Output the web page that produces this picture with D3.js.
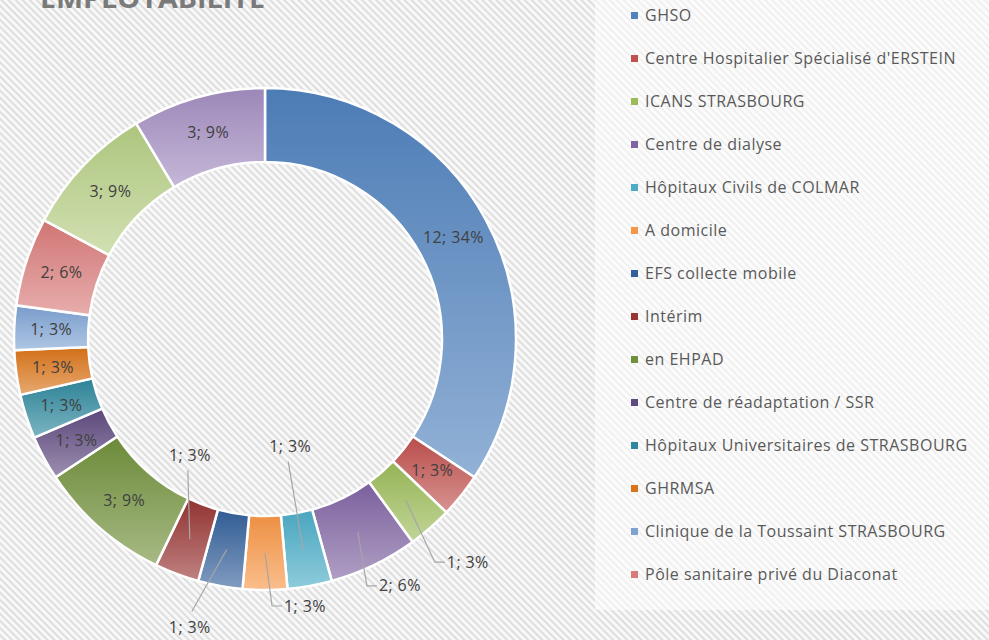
<!DOCTYPE html>
<html>
<head>
    <meta charset="utf-8" />
    <title>EMPLOYABILITE</title>
    <script src="https://d3js.org/d3.v7.min.js"></script>
    <style>
        body { margin: 0; background: #fff; }
        svg { display: block; }
    </style>
</head>
<body>
    <div id="chart"></div>

    <script>
        // data
        const categories = [
            "GHSO",
            "Centre Hospitalier Spécialisé d'ERSTEIN",
            "ICANS STRASBOURG",
            "Centre de dialyse",
            "Hôpitaux Civils de COLMAR",
            "A domicile",
            "EFS collecte mobile",
            "Intérim",
            "en EHPAD",
            "Centre de réadaptation / SSR",
            "Hôpitaux Universitaires de STRASBOURG",
            "GHRMSA",
            "Clinique de la Toussaint STRASBOURG",
            "Pôle sanitaire privé du Diaconat",
            "Catégorie 15",
            "Catégorie 16"
        ];
        const values = [12, 1, 1, 2, 1, 1, 1, 1, 3, 1, 1, 1, 1, 2, 3, 3];
        const legendShown = 14; // the legend box only has room for 14 entries

        // excel 2007 palette: 6 base, 6 darker, lighter ones after
        const colors = [
            "#4F81BD", "#C0504D", "#9BBB59", "#8064A2", "#4BACC6", "#F79646",
            "#33609A", "#973533", "#71903A", "#5F4A80", "#2E879D", "#DA7418",
            "#7EA3D3", "#D97B79", "#B4CD83", "#A28DC0"
        ];

        // label placement (offset from slice centroid) + leader style
        const labelPos = [
            [0, 0, null], [0, -2, null], [62, 62, "elbow"], [42, 54, "elbow"],
            [-13, -103, "up"], [40, 53, "elbow"], [-37, 78, "down"], [0, -84, "up"],
            [0, 0, null], [0, 0, null], [0, 0, null], [0, 0, null],
            [0, 0, null], [0, 0, null], [0, 0, null], [0, 0, null]
        ];

        const width = 989;
        const height = 640;
        const cx = 265, cy = 339;
        const outerR = 251, innerR = 177;

        const svg = d3.select("#chart")
            .append("svg")
            .attr("width", width)
            .attr("height", height);

        const defs = svg.append("defs");

        // striped background
        const pat = defs.append("pattern")
            .attr("id", "stripes")
            .attr("width", 5)
            .attr("height", 5)
            .attr("patternUnits", "userSpaceOnUse")
            .attr("patternTransform", "rotate(-45)");
        pat.append("rect").attr("width", 5).attr("height", 5).attr("fill", "#f8f8f8");
        pat.append("rect").attr("width", 2).attr("height", 5).attr("fill", "#dedede");

        svg.append("rect")
            .attr("width", width)
            .attr("height", height)
            .attr("fill", "url(#stripes)");

        // gradients, darker on top, lighter at the bottom
        colors.forEach(function (c, i) {
            const g = defs.append("linearGradient")
                .attr("id", "grad" + i)
                .attr("x1", 0).attr("y1", 0)
                .attr("x2", 0).attr("y2", 1);
            g.append("stop").attr("offset", "0%").attr("stop-color", d3.interpolateRgb(c, "#000")(0.04));
            g.append("stop").attr("offset", "100%").attr("stop-color", d3.interpolateRgb(c, "#fff")(0.38));
        });

        // title (cut off by the top edge in the original)
        svg.append("text")
            .attr("x", 40)
            .attr("y", 8)
            .attr("textLength", 225)
            .attr("lengthAdjust", "spacingAndGlyphs")
            .style("font-family", "'Open Sans', sans-serif")
            .style("font-weight", "bold")
            .style("font-size", "27px")
            .style("fill", "#7a7a7a")
            .text("EMPLOYABILITE");

        const total = d3.sum(values);
        const data = categories.map((c, i) => ({ name: c, value: values[i], i: i }));

        const pie = d3.pie()
            .value(d => d.value)
            .sort(null);

        const arc = d3.arc()
            .innerRadius(innerR)
            .outerRadius(outerR);

        const chart = svg.append("g")
            .attr("transform", `translate(${cx}, ${cy})`);

        const arcs = pie(data);

        chart.selectAll(".slice")
            .data(arcs)
            .enter().append("path")
            .attr("class", "slice")
            .attr("d", arc)
            .attr("fill", d => `url(#grad${d.data.i})`)
            .attr("stroke", "#fff")
            .attr("stroke-width", 2.5);

        // data labels
        const labelFont = "'Open Sans', sans-serif";
        const labels = chart.append("g");

        arcs.forEach(function (d) {
            const c = arc.centroid(d);
            const p = labelPos[d.data.i];
            const lx = c[0] + p[0], ly = c[1] + p[1];
            const txt = d.value + "; " + Math.round(d.value / total * 100) + "%";

            const t = labels.append("text")
                .attr("x", lx)
                .attr("y", ly)
                .attr("dy", "0.35em")
                .attr("text-anchor", "middle")
                .style("font-family", labelFont)
                .style("font-size", "16px")
                .style("letter-spacing", "0.4px")
                .style("fill", "#404040")
                .text(txt);

            if (!p[2]) return;
            const w = t.node().getComputedTextLength();
            let pts;
            if (p[2] === "elbow") {
                const left = lx - w / 2;
                pts = [c, [left - 12, ly], [left - 2, ly]];
            } else if (p[2] === "up") {
                pts = [c, [lx - 2, ly + 15]];
            } else {
                pts = [c, [lx + 2, ly - 16]];
            }
            labels.insert("path", "text")
                .attr("d", d3.line()(pts))
                .attr("fill", "none")
                .attr("stroke", "#a6a6a6")
                .attr("stroke-width", 1.2);
        });

        // legend
        const legend = svg.append("g");
        legend.append("rect")
            .attr("x", 595)
            .attr("y", -1)
            .attr("width", width - 595 + 1)
            .attr("height", 611)
            .attr("fill", "#fff")
            .attr("fill-opacity", 0.55);

        const legendY = d3.scalePoint()
            .domain(d3.range(legendShown))
            .range([15, 574]);

        const rows = legend.selectAll(".row")
            .data(data.slice(0, legendShown))
            .enter().append("g")
            .attr("class", "row")
            .attr("transform", d => `translate(0, ${legendY(d.i)})`);

        rows.append("rect")
            .attr("x", 631)
            .attr("y", -3)
            .attr("width", 7)
            .attr("height", 7)
            .attr("fill", d => colors[d.i]);

        rows.append("text")
            .attr("x", 645)
            .attr("y", 0)
            .attr("dy", "0.35em")
            .style("font-family", labelFont)
            .style("font-size", "16px")
            .style("letter-spacing", "0.5px")
            .style("fill", "#595959")
            .text(d => d.name);
    </script>
</body>
</html>
